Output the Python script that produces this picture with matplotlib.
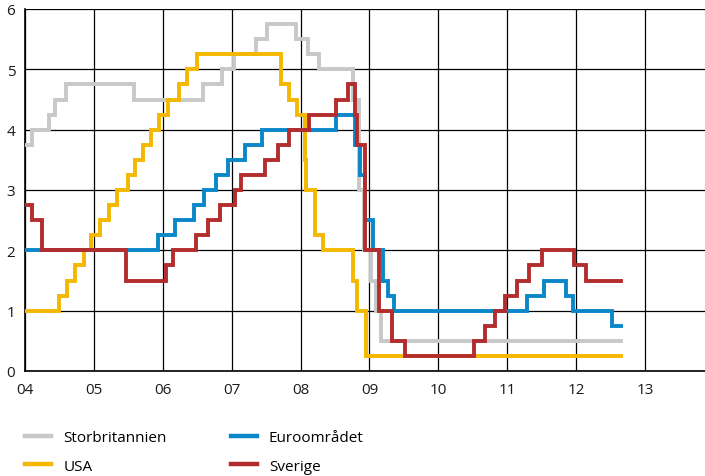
import datetime as dt
import matplotlib
matplotlib.use("Agg")
import matplotlib.pyplot as plt
from matplotlib.lines import Line2D

plt.rcParams['font.family'] = ['Open Sans', 'DejaVu Sans']

# policy rate decisions: effective date and new rate (per cent)
uk_dates = ["2004-01-01", "2004-02-05", "2004-05-06", "2004-06-10", "2004-08-05",
            "2005-08-04", "2006-08-03", "2006-11-09", "2007-01-11", "2007-05-10",
            "2007-07-05", "2007-12-06", "2008-02-07", "2008-04-10", "2008-10-08",
            "2008-11-06", "2008-12-04", "2009-01-08", "2009-02-05", "2009-03-05"]
uk_rates = [3.75, 4.00, 4.25, 4.50, 4.75,
            4.50, 4.75, 5.00, 5.25, 5.50,
            5.75, 5.50, 5.25, 5.00, 4.50,
            3.00, 2.00, 1.50, 1.00, 0.50]

us_dates = ["2004-01-01", "2004-06-30", "2004-08-10", "2004-09-21", "2004-11-10",
            "2004-12-14", "2005-02-02", "2005-03-22", "2005-05-03", "2005-06-30",
            "2005-08-09", "2005-09-20", "2005-11-01", "2005-12-13", "2006-01-31",
            "2006-03-28", "2006-05-10", "2006-06-29", "2007-09-18", "2007-10-31",
            "2007-12-11", "2008-01-22", "2008-01-30", "2008-03-18", "2008-04-30",
            "2008-10-08", "2008-10-29", "2008-12-16"]
us_rates = [1.00, 1.25, 1.50, 1.75, 2.00,
            2.25, 2.50, 2.75, 3.00, 3.25,
            3.50, 3.75, 4.00, 4.25, 4.50,
            4.75, 5.00, 5.25, 4.75, 4.50,
            4.25, 3.50, 3.00, 2.25, 2.00,
            1.50, 1.00, 0.25]

ez_dates = ["2004-01-01", "2005-12-06", "2006-03-08", "2006-06-15", "2006-08-09",
            "2006-10-11", "2006-12-13", "2007-03-14", "2007-06-13", "2008-07-09",
            "2008-10-15", "2008-11-12", "2008-12-10", "2009-01-21", "2009-03-11",
            "2009-04-08", "2009-05-13", "2011-04-13", "2011-07-13", "2011-11-09",
            "2011-12-14", "2012-07-11"]
ez_rates = [2.00, 2.25, 2.50, 2.75, 3.00,
            3.25, 3.50, 3.75, 4.00, 4.25,
            3.75, 3.25, 2.50, 2.00, 1.50,
            1.25, 1.00, 1.25, 1.50, 1.25,
            1.00, 0.75]

se_dates = ["2004-01-01", "2004-02-06", "2004-04-01", "2005-06-22", "2006-01-20",
            "2006-02-24", "2006-06-27", "2006-08-30", "2006-10-31", "2007-01-17",
            "2007-02-21", "2007-06-27", "2007-09-05", "2007-10-30", "2008-02-13",
            "2008-07-09", "2008-09-10", "2008-10-15", "2008-10-29", "2008-12-10",
            "2009-02-18", "2009-04-29", "2009-07-08", "2010-07-07", "2010-09-07",
            "2010-10-27", "2010-12-21", "2011-02-22", "2011-04-26", "2011-07-05",
            "2011-12-20", "2012-02-21"]
se_rates = [2.75, 2.50, 2.00, 1.50, 1.75,
            2.00, 2.25, 2.50, 2.75, 3.00,
            3.25, 3.50, 3.75, 4.00, 4.25,
            4.50, 4.75, 4.25, 3.75, 2.00,
            1.00, 0.50, 0.25, 0.50, 0.75,
            1.00, 1.25, 1.50, 1.75, 2.00,
            1.75, 1.50]

end_date = "2012-08-28"

x_ticks = list(range(4, 14))
x_labels = [f"{t:02d}" for t in x_ticks]
y_ticks = list(range(0, 7))


def to_year(s):
    # decimal year counted from 2000, so 2004-01-01 -> 4.0
    d = dt.date.fromisoformat(s)
    start = dt.date(d.year, 1, 1)
    days = (dt.date(d.year + 1, 1, 1) - start).days
    return d.year - 2000 + (d - start).days / days


def step_series(dates, rates):
    x = [to_year(s) for s in dates] + [to_year(end_date)]
    y = list(rates) + [rates[-1]]
    return x, y


series = [
    ("Storbritannien", uk_dates, uk_rates, "#c8c8c8"),
    ("USA", us_dates, us_rates, "#f4b800"),
    ("Euroområdet", ez_dates, ez_rates, "#0a87c8"),
    ("Sverige", se_dates, se_rates, "#b32d2e"),
]

fig = plt.figure(figsize=(7.05, 4.77), dpi=100)
ax = fig.add_axes([25 / 705, 105 / 477, 680 / 705, 362 / 477])

for name, dates, rates, color in series:
    x, y = step_series(dates, rates)
    ax.step(x, y, where="post", color=color, lw=2.8, label=name,
            solid_joinstyle="miter", zorder=3)

ax.set_xlim(4, 4 + 680 / 68.9)
ax.set_ylim(0, 6)
ax.set_xticks(x_ticks)
ax.set_xticklabels(x_labels)
ax.set_yticks(y_ticks)
ax.grid(True, color="black", lw=0.9, zorder=1)
ax.set_axisbelow(True)
ax.tick_params(length=0, labelsize=11, colors="#1a1a1a")
ax.tick_params(axis="x", pad=8)
ax.tick_params(axis="y", pad=7)
for side in ("top", "right"):
    ax.spines[side].set_visible(False)
for side in ("left", "bottom"):
    ax.spines[side].set_color("black")
    ax.spines[side].set_linewidth(1.2)

handles = [Line2D([], [], color=c, lw=3.2) for _, _, _, c in series]
labels = [n for n, _, _, _ in series]
fig.legend(handles, labels, ncol=2, loc="upper left",
           bbox_to_anchor=(25 / 705, 1 - 431 / 477), frameon=False,
           fontsize=11, handlelength=1.7, handletextpad=0.8,
           columnspacing=4.2, labelspacing=0.9, borderpad=0,
           borderaxespad=0)

fig.savefig("out.png", dpi=100)
